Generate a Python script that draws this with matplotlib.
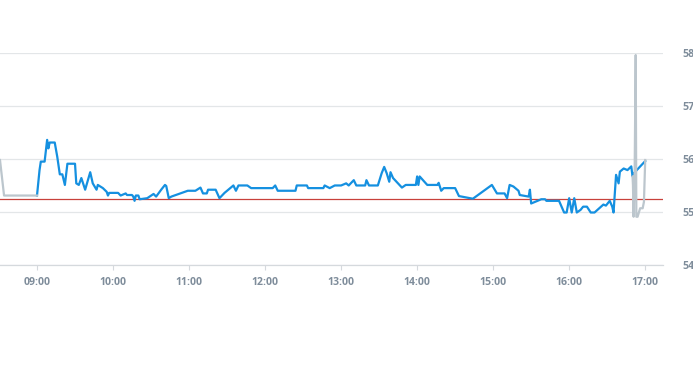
"""Intraday price line: regular session in blue, extended hours in grey."""
import matplotlib
matplotlib.use("Agg")
import matplotlib.pyplot as plt
import matplotlib.dates as mdates
import pandas as pd

DAY = "2024-01-02 "

# regular session
session_times = [
    "09:00", "09:02", "09:03", "09:06", "09:08", "09:09", "09:10", "09:14",
    "09:16", "09:18", "09:20", "09:22", "09:24", "09:30", "09:31", "09:33",
    "09:35", "09:38", "09:42", "09:44", "09:47", "09:48", "09:52", "09:55",
    "09:56", "09:57", "10:04", "10:06", "10:10", "10:11", "10:15", "10:16",
    "10:17", "10:18", "10:20", "10:21", "10:27", "10:32", "10:34", "10:38",
    "10:41", "10:42", "10:44", "10:46", "10:53", "10:59", "11:05", "11:09",
    "11:11", "11:14", "11:15", "11:21", "11:24", "11:28", "11:35", "11:37",
    "11:39", "11:46", "11:49", "12:06", "12:08", "12:10", "12:24", "12:25",
    "12:33", "12:34", "12:46", "12:47", "12:51", "12:55", "13:00", "13:04",
    "13:06", "13:10", "13:12", "13:19", "13:20", "13:22", "13:29", "13:32",
    "13:34", "13:36", "13:38", "13:39", "13:41", "13:46", "13:48", "13:51",
    "13:59", "14:00", "14:01", "14:02", "14:08", "14:16", "14:17", "14:19",
    "14:21", "14:30", "14:32", "14:33", "14:44", "14:59", "15:03", "15:09",
    "15:11", "15:13", "15:16", "15:20", "15:21", "15:28", "15:29", "15:30",
    "15:32", "15:38", "15:41", "15:42", "15:52", "15:56", "15:58", "16:00",
    "16:02", "16:04", "16:06", "16:09", "16:11", "16:14", "16:17", "16:20",
    "16:27", "16:29", "16:32", "16:34", "16:35", "16:37", "16:39", "16:40",
    "16:43", "16:46", "16:49", "16:50", "16:51", "17:00",
]
session_prices = [
    55.31, 55.79, 55.95, 55.95, 56.36, 56.20, 56.31, 56.31,
    56.04, 55.71, 55.71, 55.51, 55.91, 55.91, 55.54, 55.51,
    55.64, 55.42, 55.75, 55.54, 55.42, 55.51, 55.45, 55.38,
    55.31, 55.36, 55.36, 55.31, 55.35, 55.32, 55.32, 55.29,
    55.21, 55.31, 55.31, 55.24, 55.26, 55.34, 55.29, 55.42,
    55.51, 55.49, 55.26, 55.29, 55.35, 55.40, 55.40, 55.46,
    55.35, 55.35, 55.42, 55.42, 55.26, 55.36, 55.50, 55.40,
    55.50, 55.50, 55.45, 55.45, 55.50, 55.40, 55.40, 55.50,
    55.50, 55.45, 55.45, 55.50, 55.45, 55.50, 55.50, 55.54,
    55.50, 55.60, 55.50, 55.50, 55.60, 55.50, 55.50, 55.73,
    55.85, 55.73, 55.57, 55.75, 55.64, 55.51, 55.46, 55.51,
    55.51, 55.67, 55.51, 55.67, 55.51, 55.51, 55.55, 55.40,
    55.45, 55.45, 55.35, 55.30, 55.25, 55.51, 55.35, 55.35,
    55.26, 55.51, 55.48, 55.40, 55.32, 55.29, 55.42, 55.16,
    55.18, 55.24, 55.24, 55.21, 55.21, 54.99, 54.99, 55.26,
    54.99, 55.26, 54.99, 55.04, 55.10, 55.10, 54.99, 54.99,
    55.14, 55.12, 55.21, 55.10, 54.99, 55.70, 55.54, 55.76,
    55.82, 55.79, 55.86, 55.67, 55.73, 55.96,
]

# extended hours
pre_times = ["08:30:48", "08:34:00", "09:00:00"]
pre_prices = [55.98, 55.31, 55.31]
post_times = ["16:50:00", "16:50:20", "16:50:50", "16:51:40", "16:52:30",
              "16:53:00", "16:54:00", "16:56:00", "16:58:00", "16:59:00",
              "17:00:00"]
post_prices = [55.67, 55.51, 54.91, 55.76, 57.96,
               54.91, 54.91, 55.07, 55.07, 55.19, 55.98]

ref_price = 55.24
x_start, x_end = "08:30:48", "17:14:12"
y_ticks = [54, 55, 56, 57, 58]


def ts(values):
    return pd.to_datetime([DAY + v for v in values])


fig = plt.figure(figsize=(6.93, 3.65), dpi=100)
ax = fig.add_axes([0.0, 0.274, 0.957, 0.581])

label_color = "#7f8d9b"
grid_color = "#e3e6e8"

ax.plot(ts(session_times), session_prices, color="#1590e0", lw=1.6,
        solid_joinstyle="round", zorder=3)
ax.plot(ts(pre_times), pre_prices, color="#bcc6cd", lw=1.6, zorder=4)
ax.plot(ts(post_times), post_prices, color="#bcc6cd", lw=1.6, zorder=4)
ax.axhline(ref_price, color="#c8413b", lw=0.9, zorder=2)

ax.set_xlim(pd.Timestamp(DAY + x_start), pd.Timestamp(DAY + x_end))
ax.set_ylim(y_ticks[0], y_ticks[-1])
ax.set_yticks(y_ticks)
ax.yaxis.tick_right()
ax.grid(axis="y", color=grid_color, lw=0.9)
ax.set_axisbelow(True)

ax.xaxis.set_major_locator(mdates.HourLocator())
ax.xaxis.set_major_formatter(mdates.DateFormatter("%H:%M"))

for side in ("top", "left", "right"):
    ax.spines[side].set_visible(False)
ax.spines["bottom"].set_color("#d5d9dd")
ax.spines["bottom"].set_linewidth(0.9)

ax.tick_params(axis="x", length=3.5, width=0.8, color="#d5d9dd",
               labelcolor=label_color, pad=5)
ax.tick_params(axis="y", length=0, labelcolor=label_color, pad=13.5)
for lab in ax.get_xticklabels() + ax.get_yticklabels():
    lab.set_fontfamily("Open Sans")
    lab.set_fontweight("bold")
    lab.set_fontsize(7.6)

fig.savefig("out.png", dpi=100)
